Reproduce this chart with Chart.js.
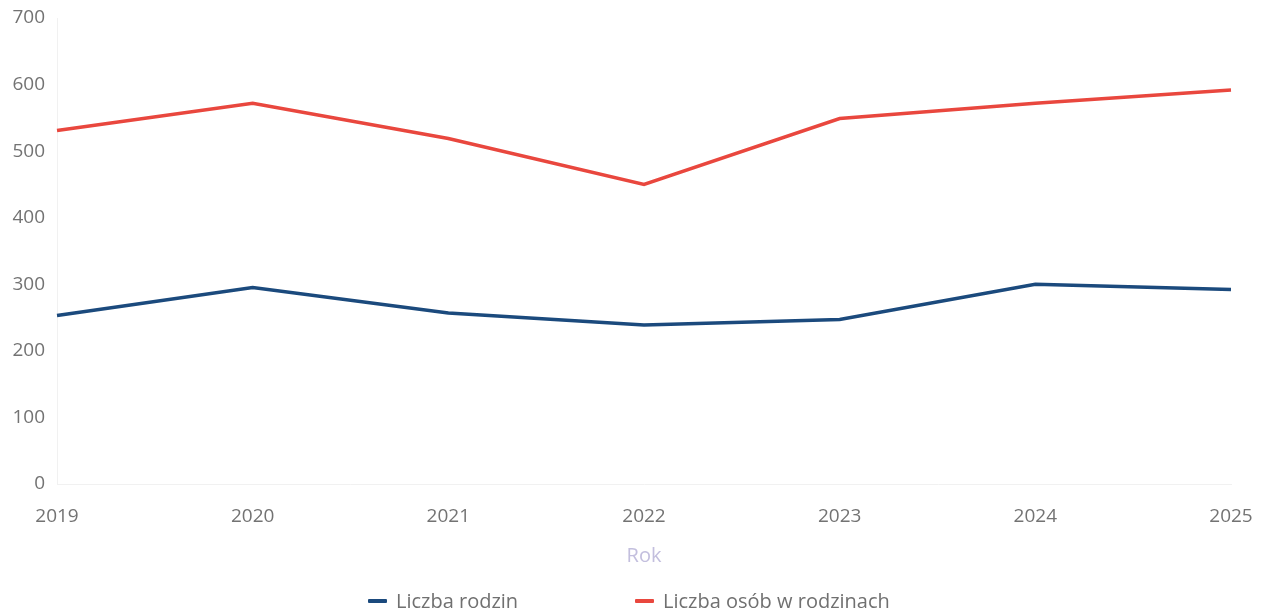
<!DOCTYPE html>
<html>
<head>
<meta charset="utf-8">
<script src="https://cdn.jsdelivr.net/npm/chart.js@4.4.1/dist/chart.umd.min.js"></script>
<style>
  html, body { margin: 0; padding: 0; background: #ffffff; }
  #wrap { position: relative; width: 1263px; height: 615px; overflow: hidden; }
  #c { position: absolute; left: 0; top: 0; }
  .leg { position: absolute; top: 589px; height: 24px; display: flex; align-items: center;
         font-family: "Open Sans", sans-serif; font-size: 20px; color: #707070; line-height: 24px; white-space: nowrap; }
  .leg .mk { width: 19px; height: 4px; margin-right: 9px; border-radius: 1px; }
</style>
</head>
<body>
<div id="wrap">
  <canvas id="c" width="1263" height="615"></canvas>
  <div class="leg" id="leg0" style="left:368px;"><span class="mk"></span><span class="tx"></span></div>
  <div class="leg" id="leg1" style="left:635px;"><span class="mk"></span><span class="tx"></span></div>
</div>
<script>
// ---- data ----
const years = ["2019", "2020", "2021", "2022", "2023", "2024", "2025"];
const liczbaRodzin = [253, 295, 257, 239, 247, 300, 292];
const liczbaOsob = [531, 572, 519, 450, 549, 572, 592];
const seriesNames = ["Liczba rodzin", "Liczba osób w rodzinach"];
const seriesColors = ["#1b4a7d", "#e9473e"];
const yTicks = [0, 100, 200, 300, 400, 500, 600, 700];
const xTitle = "Rok";

// ---- legend (HTML) ----
seriesNames.forEach((n, i) => {
  const el = document.getElementById("leg" + i);
  el.querySelector(".mk").style.background = seriesColors[i];
  el.querySelector(".tx").textContent = n;
});

const tickFont = { family: "Open Sans", size: 19 };

new Chart(document.getElementById("c"), {
  type: "line",
  data: {
    labels: years,
    datasets: [
      { label: seriesNames[0], data: liczbaRodzin, borderColor: seriesColors[0], backgroundColor: seriesColors[0],
        borderWidth: 3.5, pointRadius: 0, pointHoverRadius: 0, tension: 0, fill: false },
      { label: seriesNames[1], data: liczbaOsob, borderColor: seriesColors[1], backgroundColor: seriesColors[1],
        borderWidth: 3.5, pointRadius: 0, pointHoverRadius: 0, tension: 0, fill: false }
    ]
  },
  options: {
    responsive: false,
    devicePixelRatio: 1,
    animation: false,
    layout: { padding: { left: 11, right: 1, top: 0, bottom: 47 } },
    plugins: { legend: { display: false }, tooltip: { enabled: false } },
    scales: {
      x: {
        offset: false,
        afterFit: (s) => { s.height = 84; s.paddingRight = 32; },
        grid: { drawOnChartArea: false, drawTicks: false },
        border: { display: true, color: "#f1f1f1", width: 1 },
        ticks: { color: "#737373", font: tickFont, padding: 21, maxRotation: 0, autoSkip: false },
        title: { display: true, text: xTitle, color: "#c3bfde", font: { family: "Open Sans", size: 20 },
                 padding: { top: 16, bottom: 0 } }
      },
      y: {
        min: 0, max: 700,
        afterBuildTicks: (s) => { s.ticks = yTicks.map(v => ({ value: v })); },
        afterFit: (s) => { s.width = 46; s.paddingTop = 18; },
        grid: { drawOnChartArea: false, drawTicks: false },
        border: { display: true, color: "#f1f1f1", width: 1 },
        ticks: { color: "#737373", font: tickFont, padding: 12 }
      }
    }
  }
});
</script>
</body>
</html>
